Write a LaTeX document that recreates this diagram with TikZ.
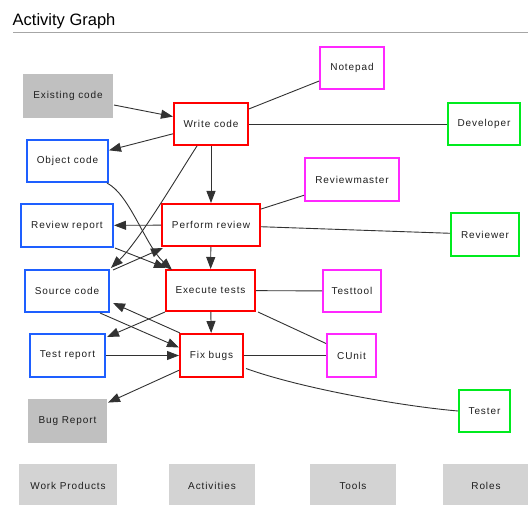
\documentclass[tikz,border=0pt]{standalone}
\usepackage{fontspec}
\setmainfont{Liberation Sans}
\usetikzlibrary{arrows.meta}
\definecolor{wpblue}{RGB}{30,95,255}
\definecolor{acred}{RGB}{255,0,0}
\definecolor{tlmag}{RGB}{255,40,255}
\definecolor{rlgreen}{RGB}{0,235,30}
\definecolor{wpgray}{RGB}{192,192,192}
\definecolor{lggray}{RGB}{211,211,211}
\definecolor{edgecol}{RGB}{50,50,50}
\definecolor{txtcol}{RGB}{30,30,30}
\tikzset{
  box/.style={rectangle, line width=2pt, fill=white, text=txtcol,
    font=\fontsize{10}{12}\selectfont\addfontfeature{LetterSpace=9}, inner sep=0pt},
  wp/.style={box, draw=wpblue},
  act/.style={box, draw=acred},
  tool/.style={box, draw=tlmag},
  role/.style={box, draw=rlgreen},
  gwp/.style={box, draw=none, fill=wpgray},
  legend/.style={box, draw=none, fill=lggray},
  edge/.style={draw=edgecol, line width=0.9pt},
  arr/.style={edge, -{Triangle[length=12pt,width=9pt]}},
}
\begin{document}
\begin{tikzpicture}[x=1pt,y=-1pt]
\useasboundingbox[fill=white] (0,0) rectangle (528,505);
% title
\node[anchor=west, font=\fontsize{16.5}{18}\selectfont, text=black, inner sep=0pt] (title) at (12.5,21) {Activity Graph};
\coordinate (rl) at (13,32);
\coordinate (rr) at (528,32);
\draw[gray!70, line width=0.8pt] (rl) -- (rr);
% work products
\node[gwp, minimum width=90pt, minimum height=44pt] (ec) at (68,96) {Existing code};
\node[wp, minimum width=81pt, minimum height=42pt] (oc) at (67.5,161) {Object code};
\node[wp, minimum width=92pt, minimum height=43pt] (rrp) at (67,225.5) {Review report};
\node[wp, minimum width=84pt, minimum height=42pt] (sc) at (67,291) {Source code};
\node[wp, minimum width=75pt, minimum height=43pt] (tr) at (67.5,355.5) {Test report};
\node[gwp, minimum width=79pt, minimum height=44pt] (br) at (67.5,421) {Bug Report};
% activities
\node[act, minimum width=74pt, minimum height=42pt] (wc) at (211,124) {Write code};
\node[act, minimum width=98pt, minimum height=42pt] (pr) at (211,225) {Perform review};
\node[act, minimum width=89pt, minimum height=41pt] (et) at (210.5,290.5) {Execute tests};
\node[act, minimum width=63pt, minimum height=43pt] (fb) at (211.5,355.5) {Fix bugs};
% tools
\node[tool, minimum width=64pt, minimum height=42pt] (np) at (352,68) {Notepad};
\node[tool, minimum width=94pt, minimum height=43pt] (rm) at (352,180) {Reviewmaster};
\node[tool, minimum width=58pt, minimum height=42pt] (tt) at (352,291) {Testtool};
\node[tool, minimum width=49pt, minimum height=43pt] (cu) at (351.5,355.5) {CUnit};
% roles
\node[role, minimum width=72pt, minimum height=42pt] (dev) at (484,124) {Developer};
\node[role, minimum width=68pt, minimum height=43pt] (rev) at (485,234.5) {Reviewer};
\node[role, minimum width=51pt, minimum height=42pt] (te) at (484.5,411) {Tester};
% legend
\node[legend, minimum width=98pt, minimum height=44pt] (lwp) at (68,486) {Work Products};
\node[legend, minimum width=86pt, minimum height=44pt] (lac) at (212,486) {Activities};
\node[legend, minimum width=86pt, minimum height=44pt] (lto) at (353,486) {Tools};
\node[legend, minimum width=86pt, minimum height=44pt] (lro) at (486,486) {Roles};
% edges
\draw[arr] (ec) -- (wc);
\draw[arr] (wc) -- (oc);
\draw[edge] (wc) -- (np);
\draw[edge] (wc) -- (dev);
\draw[arr] (wc) -- (pr);
\draw[arr] ([xshift=-14pt]wc.south) .. controls (180,172) and (140,240) .. ([xshift=1pt,yshift=1pt]sc.north east);
\draw[arr] ([xshift=-2pt]oc.south east) .. controls (130,195) and (145,245) .. ([xshift=7pt,yshift=-1pt]et.north west);
\draw[arr] (pr) -- (rrp);
\draw[edge] (pr) -- (rm);
\draw[edge] (pr) -- (rev);
\draw[arr] (pr) -- (et);
\draw[arr] ([xshift=1pt]rrp.south east) -- ([xshift=1pt,yshift=1pt]et.north west);
\draw[arr] ([xshift=3pt,yshift=-1pt]sc.north east) -- ([xshift=2pt,yshift=-1pt]pr.south west);
\draw[arr] (et.south west) -- ([xshift=1pt,yshift=-4pt]tr.north east);
\draw[arr] (et) -- (fb);
\draw[edge] (et) -- (tt);
\draw[edge] ([xshift=2pt]et.south east) -- ([yshift=12pt]cu.west);
\draw[arr] ([xshift=-10pt]sc.south east) -- ([yshift=8pt]fb.west);
\draw[arr] ([xshift=1pt]fb.north west) -- ([xshift=3pt,yshift=-12pt]sc.east);
\draw[arr] (tr) -- (fb);
\draw[arr] (fb) -- (br);
\draw[edge] (fb) -- (cu);
\draw[edge] ([xshift=2pt,yshift=-13pt]fb.east) .. controls (300,388) and (400,406) .. (te.west);
\end{tikzpicture}
\end{document}
